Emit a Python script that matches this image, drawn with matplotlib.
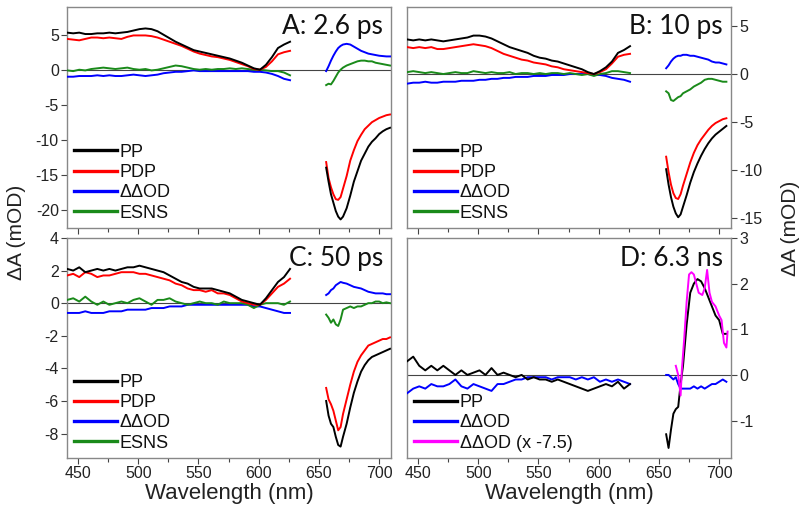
import numpy as np
import matplotlib
matplotlib.use("Agg")
import matplotlib.pyplot as plt

plt.rcParams["font.family"] = ["Liberation Sans", "DejaVu Sans"]
plt.rcParams["axes.unicode_minus"] = False

# wavelength grids (nm): visible probe segment and red segment
w1 = [441, 446, 451, 456, 461, 466, 471, 476, 481, 486, 491, 496, 501, 506, 511,
      516, 521, 526, 531, 536, 541, 546, 551, 556, 561, 566, 571, 576, 581, 586,
      591, 596, 601, 606, 611, 616, 621, 626]
w2 = [656, 658, 660, 662, 664, 666, 668, 670, 673, 676, 679, 682, 685, 688, 691,
      694, 697, 700, 703, 706, 709]
w2s = w2[:20]

# Panel A: 2.6 ps
a_pp1 = [5.3, 5.2, 5.3, 5.1, 5.1, 5.2, 5.2, 5.3, 5.2, 5.3, 5.4, 5.6, 5.8, 5.9, 5.8, 5.5, 5.0, 4.5, 4.0,
         3.6, 3.2, 2.8, 2.6, 2.4, 2.2, 2.0, 1.8, 1.6, 1.3, 1.0, 0.6, 0.2, 0.0, 0.7, 1.8, 3.1, 3.6, 4.0]
a_pdp1 = [4.4, 4.3, 4.2, 4.4, 4.6, 4.6, 4.5, 4.6, 4.5, 4.4, 4.7, 4.9, 4.9, 4.9, 4.8, 4.6, 4.3, 4.0, 3.7,
          3.4, 3.0, 2.6, 2.3, 2.1, 1.9, 1.8, 1.6, 1.4, 1.1, 0.8, 0.5, 0.1, 0.0, 0.4, 1.2, 2.2, 2.5, 2.7]
a_dd1 = [-1.0, -1.0, -0.9, -0.9, -0.9, -0.8, -0.9, -0.8, -0.9, -0.9, -0.8, -0.7, -0.8, -0.9, -0.8, -0.7,
         -0.5, -0.4, -0.3, -0.3, -0.2, -0.1, -0.2, -0.2, -0.2, -0.2, -0.2, -0.2, -0.2, -0.2, -0.2, -0.3,
         -0.3, -0.4, -0.6, -0.9, -1.3, -1.5]
a_es1 = [-0.1, -0.2, 0.0, -0.1, 0.1, 0.2, 0.3, 0.2, 0.1, 0.2, 0.3, 0.1, 0.0, 0.1, -0.1, 0.0, 0.2, 0.4,
         0.6, 0.5, 0.3, 0.1, 0.0, 0.1, 0.0, 0.1, 0.1, 0.2, 0.1, 0.2, 0.1, 0.0, 0.0, -0.1, -0.2, -0.2,
         -0.4, -0.8]
a_pp2 = [-14.0, -16.0, -17.8, -19.0, -20.2, -21.0, -21.4, -21.0, -19.8, -18.0, -16.0, -14.5, -13.0,
         -12.0, -11.0, -10.3, -9.8, -9.2, -8.8, -8.5, -8.3]
a_pdp2 = [-13.2, -15.5, -16.8, -17.8, -18.5, -18.6, -18.2, -17.0, -15.2, -13.0, -11.5, -10.2, -9.3,
          -8.5, -8.0, -7.5, -7.2, -6.9, -6.7, -6.5, -6.4]
a_dd2 = [-0.2, 0.5, 1.3, 2.0, 2.6, 3.1, 3.4, 3.6, 3.7, 3.6, 3.3, 3.0, 2.7, 2.5, 2.3, 2.2, 2.1, 2.0,
         1.95, 1.9, 1.9]
a_es2 = [-2.2, -2.0, -2.1, -1.6, -1.0, -0.4, 0.0, 0.3, 0.6, 0.8, 1.0, 1.2, 1.3, 1.3, 1.2, 1.2, 1.0,
         0.9, 0.8, 0.7, 0.6]

# Panel B: 10 ps
b_pp1 = [3.6, 3.5, 3.6, 3.5, 3.6, 3.5, 3.4, 3.5, 3.6, 3.7, 3.8, 4.0, 4.0, 3.9, 3.7, 3.4, 3.1, 2.8, 2.6,
         2.4, 2.2, 1.9, 1.7, 1.6, 1.4, 1.3, 1.1, 0.9, 0.7, 0.5, 0.2, 0.0, 0.3, 0.7, 1.3, 2.2, 2.5, 2.9]
b_pdp1 = [2.8, 2.7, 2.8, 2.7, 2.8, 2.6, 2.6, 2.7, 2.8, 2.9, 3.0, 3.1, 3.0, 2.9, 2.7, 2.4, 2.1, 1.9, 1.7,
          1.5, 1.4, 1.2, 1.1, 1.0, 0.8, 0.7, 0.5, 0.4, 0.3, 0.2, 0.1, 0.0, 0.2, 0.5, 1.1, 1.8, 2.0, 2.1]
b_dd1 = [-1.0, -0.9, -0.9, -0.8, -0.9, -0.9, -0.8, -0.8, -0.8, -0.7, -0.7, -0.7, -0.6, -0.6, -0.5,
         -0.5, -0.4, -0.4, -0.3, -0.3, -0.3, -0.2, -0.2, -0.2, -0.1, -0.1, -0.1, 0.0, 0.0, 0.0, 0.0,
         -0.1, -0.1, -0.2, -0.4, -0.5, -0.6, -0.8]
b_es1 = [0.2, 0.3, 0.2, 0.1, 0.2, 0.1, 0.0, 0.1, 0.2, 0.1, 0.1, 0.3, 0.2, 0.1, 0.2, 0.1, 0.1, 0.2, 0.0,
         0.1, 0.1, 0.0, 0.1, 0.0, 0.1, 0.1, 0.0, 0.1, 0.0, -0.1, 0.0, -0.2, 0.0, 0.1, 0.3, 0.3, 0.2, 0.1]
b_pp2 = [-9.9, -11.5, -12.8, -13.8, -14.5, -14.9, -14.6, -13.8, -12.6, -11.3, -10.2, -9.3, -8.5, -7.8,
         -7.2, -6.7, -6.3, -6.0, -5.7, -5.4]
b_pdp2 = [-8.6, -10.2, -11.5, -12.4, -12.9, -13.0, -12.5, -11.6, -10.4, -9.2, -8.2, -7.4, -6.8, -6.3,
          -5.8, -5.4, -5.1, -4.9, -4.7, -4.6]
b_dd2 = [0.6, 0.9, 1.3, 1.6, 1.8, 1.9, 1.9, 2.0, 2.0, 1.9, 1.9, 1.8, 1.7, 1.6, 1.5, 1.3, 1.2, 1.2,
         1.1, 1.0]
b_es2 = [-1.8, -2.0, -2.7, -2.8, -2.6, -2.4, -2.3, -2.0, -1.8, -1.6, -1.3, -1.1, -0.9, -0.6, -0.5,
         -0.5, -0.6, -0.7, -0.8, -0.8]

# Panel C: 50 ps
c_pp1 = [2.1, 2.0, 2.2, 1.9, 2.0, 2.1, 2.0, 2.1, 2.0, 2.1, 2.2, 2.2, 2.3, 2.2, 2.1, 2.0, 1.9, 1.7, 1.5,
         1.3, 1.2, 1.0, 0.9, 0.9, 0.9, 0.8, 0.7, 0.6, 0.4, 0.2, 0.1, 0.0, -0.1, 0.3, 0.8, 1.3, 1.6, 2.1]
c_pdp1 = [1.7, 1.8, 1.6, 1.9, 1.8, 1.6, 1.7, 1.7, 1.8, 1.9, 1.9, 1.9, 1.8, 1.8, 1.7, 1.6, 1.5, 1.4,
          1.2, 1.1, 0.9, 0.8, 0.8, 0.7, 0.8, 0.6, 0.6, 0.5, 0.3, 0.1, 0.0, -0.1, -0.1, 0.2, 0.6, 1.0,
          1.2, 1.5]
c_dd1 = [-0.6, -0.6, -0.6, -0.5, -0.6, -0.6, -0.6, -0.5, -0.5, -0.5, -0.4, -0.4, -0.4, -0.4, -0.3,
         -0.3, -0.3, -0.2, -0.2, -0.2, -0.1, -0.1, -0.1, -0.1, -0.1, -0.1, -0.1, -0.1, -0.1, -0.1,
         -0.1, -0.2, -0.2, -0.3, -0.4, -0.5, -0.6, -0.6]
c_es1 = [0.2, 0.3, 0.1, 0.4, 0.1, -0.1, 0.1, -0.1, 0.0, 0.1, 0.0, 0.2, 0.3, 0.1, -0.1, 0.2, 0.2, 0.3,
         0.1, 0.0, -0.1, 0.0, 0.1, 0.0, 0.0, -0.1, 0.1, 0.0, 0.0, 0.0, -0.1, -0.3, -0.1, 0.0, 0.0, 0.0,
         -0.1, 0.1]
c_pp2 = [-6.0, -6.9, -7.4, -7.6, -8.2, -8.7, -8.8, -8.2, -7.4, -6.4, -5.5, -4.8, -4.2, -3.8, -3.5,
         -3.3, -3.2, -3.1, -3.0, -2.9, -2.8]
c_pdp2 = [-5.2, -5.9, -6.2, -6.6, -7.2, -7.8, -7.6, -6.8, -5.9, -5.0, -4.2, -3.6, -3.2, -2.9, -2.6,
          -2.5, -2.4, -2.3, -2.2, -2.2, -2.1]
c_dd2 = [0.5, 0.6, 0.8, 0.9, 1.1, 1.2, 1.3, 1.25, 1.2, 1.1, 1.0, 0.95, 0.9, 0.8, 0.7, 0.65, 0.6, 0.6,
         0.6, 0.55, 0.55]
c_es2 = [-0.7, -0.9, -1.2, -1.0, -1.3, -1.4, -1.0, -0.4, -0.3, -0.2, -0.3, -0.2, -0.2, -0.1, 0.0,
         0.0, 0.1, 0.1, 0.0, 0.05, 0.0]

# Panel D: 6.3 ns
d_pp1 = [0.3, 0.4, 0.2, 0.1, 0.2, 0.1, 0.2, 0.1, 0.0, 0.1, 0.0, 0.05, 0.1, 0.0, 0.15, 0.0, 0.05, 0.0,
         -0.05, 0.0, -0.1, -0.05, -0.1, -0.1, -0.15, -0.1, -0.15, -0.2, -0.25, -0.3, -0.35, -0.3,
         -0.25, -0.2, -0.25, -0.15, -0.3, -0.2]
d_dd1 = [-0.4, -0.3, -0.25, -0.3, -0.2, -0.25, -0.25, -0.2, -0.1, -0.25, -0.3, -0.2, -0.25, -0.3,
         -0.35, -0.2, -0.2, -0.15, -0.1, -0.1, -0.05, -0.05, -0.05, -0.05, -0.1, -0.05, -0.05, -0.05,
         -0.1, -0.05, -0.1, -0.05, -0.15, -0.1, -0.15, -0.1, -0.15, -0.2]
d_pp2 = [-1.3, -1.6, -1.2, -0.85, -0.75, -0.7, -0.2, 0.2, 1.1, 1.8, 2.0, 2.1, 2.05, 1.9, 1.7, 1.5,
         1.3, 1.2, 0.9, 0.9]
d_dd2 = [0.0, 0.0, -0.05, -0.1, -0.05, -0.2, -0.3, -0.3, -0.3, -0.3, -0.25, -0.3, -0.25, -0.3, -0.25,
         -0.2, -0.2, -0.15, -0.1, -0.15]
w_mag = [664, 666, 668, 669, 671, 673, 675, 677, 679, 681, 683, 686, 688, 690, 692, 694, 697, 700,
         702, 704, 706, 707]
d_mag = [0.2, 0.0, -0.45, 0.1, 0.8, 1.6, 2.2, 2.25, 2.2, 2.0, 1.8, 1.75, 1.9, 2.3, 1.8, 1.6, 1.5,
         1.3, 1.2, 0.7, 0.6, 0.95]

BLACK, RED, BLUE, GREEN, MAGENTA = "#000000", "#ff0000", "#0000ff", "#1a8a1a", "#ff00ff"
TITLE_FONT = "Lato"
SPINE = "#888888"


def style_axes(ax, ylim, yticks, right=False, xlabels=False):
    ax.set_xlim(441, 710)
    ax.set_ylim(*ylim)
    ax.set_xticks([450, 500, 550, 600, 650, 700])
    ax.set_xticks([475, 525, 575, 625, 675], minor=True)
    ax.set_yticks(yticks)
    ax.axhline(0, color="#444444", lw=0.8, zorder=1)
    for s in ax.spines.values():
        s.set_color(SPINE)
        s.set_linewidth(1.0)
    ax.tick_params(axis="both", which="both", direction="out", color="#444444",
                   labelsize=11.5, labelcolor="#222222", pad=2)
    ax.tick_params(which="major", length=4, width=0.8)
    ax.tick_params(which="minor", length=3, width=0.8)
    if right:
        ax.yaxis.tick_right()
    if not xlabels:
        ax.tick_params(axis="x", labelbottom=False)


def add_legend(ax, handles_labels):
    handles = [plt.Line2D([], [], color=c, lw=2.4) for c, _ in handles_labels]
    labels = [l for _, l in handles_labels]
    leg = ax.legend(handles, labels, loc="lower left", frameon=False, handlelength=2.4,
                    handletextpad=0.15, labelspacing=0.18, borderaxespad=0.15,
                    borderpad=0.2, prop={"size": 13})
    for t in leg.get_texts():
        t.set_color("#111111")


def draw_four(ax, pp1, pdp1, dd1, es1, pp2, pdp2, dd2, es2, x2):
    for y1, y2, c in [(dd1, dd2, BLUE), (es1, es2, GREEN), (pdp1, pdp2, RED), (pp1, pp2, BLACK)]:
        ax.plot(w1, y1, color=c, lw=1.4, zorder=3)
        ax.plot(x2, y2, color=c, lw=1.4, zorder=3)


fig = plt.figure(figsize=(8.0, 5.19), dpi=100)
left_x, right_x, width = 0.084, 0.509, 0.405
top_y, bot_y, height = 0.561, 0.1175, 0.426

axA = fig.add_axes([left_x, top_y, width, height])
axB = fig.add_axes([right_x, top_y, width, height])
axC = fig.add_axes([left_x, bot_y, width, height - 0.002])
axD = fig.add_axes([right_x, bot_y, width, height - 0.002])

legend4 = [(BLACK, "PP"), (RED, "PDP"), (BLUE, "\u0394\u0394OD"), (GREEN, "ESNS")]

draw_four(axA, a_pp1, a_pdp1, a_dd1, a_es1, a_pp2, a_pdp2, a_dd2, a_es2, w2)
style_axes(axA, (-22.6, 9), [5, 0, -5, -10, -15, -20])
add_legend(axA, legend4)

draw_four(axB, b_pp1, b_pdp1, b_dd1, b_es1, b_pp2, b_pdp2, b_dd2, b_es2, w2s)
style_axes(axB, (-16.0, 7.0), [5, 0, -5, -10, -15], right=True)
add_legend(axB, legend4)

draw_four(axC, c_pp1, c_pdp1, c_dd1, c_es1, c_pp2, c_pdp2, c_dd2, c_es2, w2)
style_axes(axC, (-9.5, 4.0), [4, 2, 0, -2, -4, -6, -8], xlabels=True)
add_legend(axC, legend4)

axD.plot(w1, d_dd1, color=BLUE, lw=1.4, zorder=3)
axD.plot(w2s, d_dd2, color=BLUE, lw=1.4, zorder=3)
axD.plot(w1, d_pp1, color=BLACK, lw=1.4, zorder=3)
axD.plot(w2s, d_pp2, color=BLACK, lw=1.4, zorder=3)
axD.plot(w_mag, d_mag, color=MAGENTA, lw=1.4, zorder=4)
style_axes(axD, (-1.82, 3.0), [3, 2, 1, 0, -1], right=True, xlabels=True)
add_legend(axD, [(BLACK, "PP"), (BLUE, "\u0394\u0394OD"), (MAGENTA, "\u0394\u0394OD (x -7.5)")])

for ax, txt in [(axA, "A: 2.6 ps"), (axB, "B: 10 ps"), (axC, "C: 50 ps"), (axD, "D: 6.3 ns")]:
    ax.text(0.975, 0.965, txt, transform=ax.transAxes, ha="right", va="top",
            family=TITLE_FONT, fontsize=19, color="#111111")

for ax in (axC, axD):
    ax.set_xlabel("Wavelength (nm)", fontsize=16, color="#222222", labelpad=1)

fig.text(0.021, 0.552, "\u0394A (mOD)", rotation=90, ha="center", va="center",
         fontsize=15, color="#222222")
fig.text(0.988, 0.56, "\u0394A (mOD)", rotation=90, ha="center", va="center",
         fontsize=15, color="#222222")

fig.savefig("out.png", dpi=100)
